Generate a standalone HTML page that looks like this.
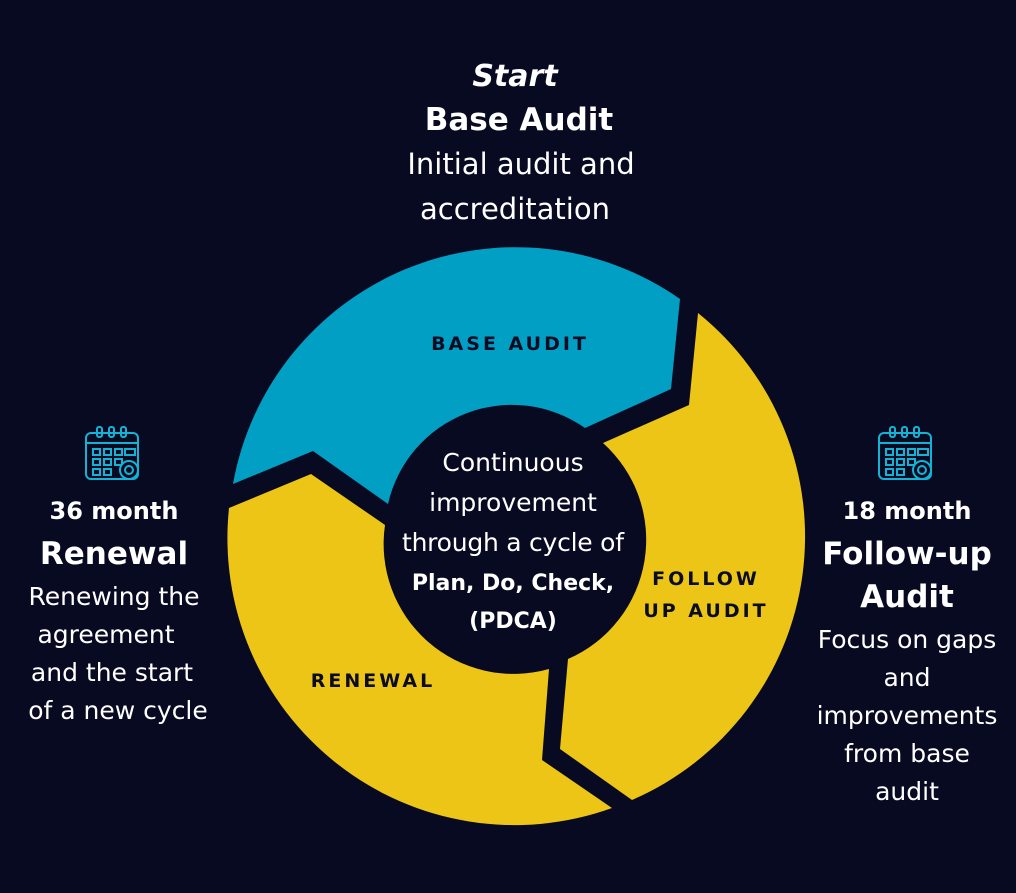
<!DOCTYPE html>
<html><head><meta charset="utf-8"><style>
html,body{margin:0;padding:0;background:#080a22;}
svg{display:block}
text{font-family:"DejaVu Sans","Liberation Sans",sans-serif;}
</style></head><body>
<svg width="1016" height="893" viewBox="0 0 1016 893" xmlns="http://www.w3.org/2000/svg">
<rect width="1016" height="893" fill="#080a22"/>
<path d="M233,484 A287,287 0 0 1 680,299 L671,389 L585,428 A127,127 0 0 0 388,504 L313,451 Z" fill="#029fc4"/>
<path d="M698,313 A287,287 0 0 1 632,800 L560,749 L568,659 A130,130 0 0 0 603,443 L689,405 Z" fill="#ecc516"/>
<path d="M612,808 A287,287 0 0 1 229,508 L311,474 L385,525 A130,130 0 0 0 549,669 L542,760 Z" fill="#ecc516"/>
<g fill="#0a0c24" font-weight="bold" font-size="19" letter-spacing="3" text-anchor="middle">
<text x="510" y="350">BASE AUDIT</text>
<text x="706" y="585">FOLLOW</text>
<text x="706" y="617">UP AUDIT</text>
<text x="373" y="687">RENEWAL</text>
</g>
<g fill="#fff" text-anchor="middle">
<text x="513" y="471" font-size="25">Continuous</text>
<text x="513" y="511" font-size="25">improvement</text>
<text x="513" y="551" font-size="25" textLength="222">through a cycle of</text>
<text x="513" y="590" font-size="22" font-weight="bold">Plan, Do, Check,</text>
<text x="513" y="628" font-size="22" font-weight="bold">(PDCA)</text>

<text x="515" y="86" font-size="30" font-weight="bold" font-style="italic">Start</text>
<text x="519" y="130" font-size="31" font-weight="bold">Base Audit</text>
<text x="521" y="174" font-size="29">Initial audit and</text>
<text x="515" y="219" font-size="29">accreditation</text>

<text x="114" y="519" font-size="24" font-weight="bold">36 month</text>
<text x="114" y="564" font-size="31" font-weight="bold">Renewal</text>
<text x="114" y="605" font-size="25">Renewing the</text>
<text x="106" y="643" font-size="25">agreement</text>
<text x="112" y="681" font-size="25">and the start</text>
<text x="118" y="719" font-size="25">of a new cycle</text>

<text x="907" y="519" font-size="24" font-weight="bold">18 month</text>
<text x="907" y="564" font-size="31" font-weight="bold">Follow-up</text>
<text x="907" y="607" font-size="31" font-weight="bold">Audit</text>
<text x="907" y="648" font-size="25">Focus on gaps</text>
<text x="907" y="686" font-size="25">and</text>
<text x="907" y="724" font-size="25">improvements</text>
<text x="907" y="762" font-size="25">from base</text>
<text x="907" y="800" font-size="25">audit</text>
</g>
<g id="cal" fill="none" stroke="#12b3d6" stroke-width="2">
<rect x="86" y="433" width="52" height="46" rx="5"/>
<line x1="86" y1="443" x2="138" y2="443"/>
<rect x="97" y="427" width="5" height="10" rx="2"/>
<rect x="109" y="427" width="5" height="10" rx="2"/>
<rect x="121" y="427" width="5" height="10" rx="2"/>
<rect x="93" y="449" width="7" height="6"/><rect x="104" y="449" width="7" height="6"/><rect x="115" y="449" width="7" height="6"/><rect x="125" y="449" width="10" height="6"/>
<rect x="93" y="459" width="7" height="6"/><rect x="104" y="459" width="7" height="6"/><rect x="115" y="459" width="7" height="6"/>
<rect x="93" y="469" width="7" height="6"/><rect x="104" y="469" width="7" height="6"/>
<circle cx="129" cy="470" r="9" fill="#080a22"/><circle cx="129" cy="470" r="4"/>
</g>
<use href="#cal" x="793" y="0"/>
</svg>
</body></html>
